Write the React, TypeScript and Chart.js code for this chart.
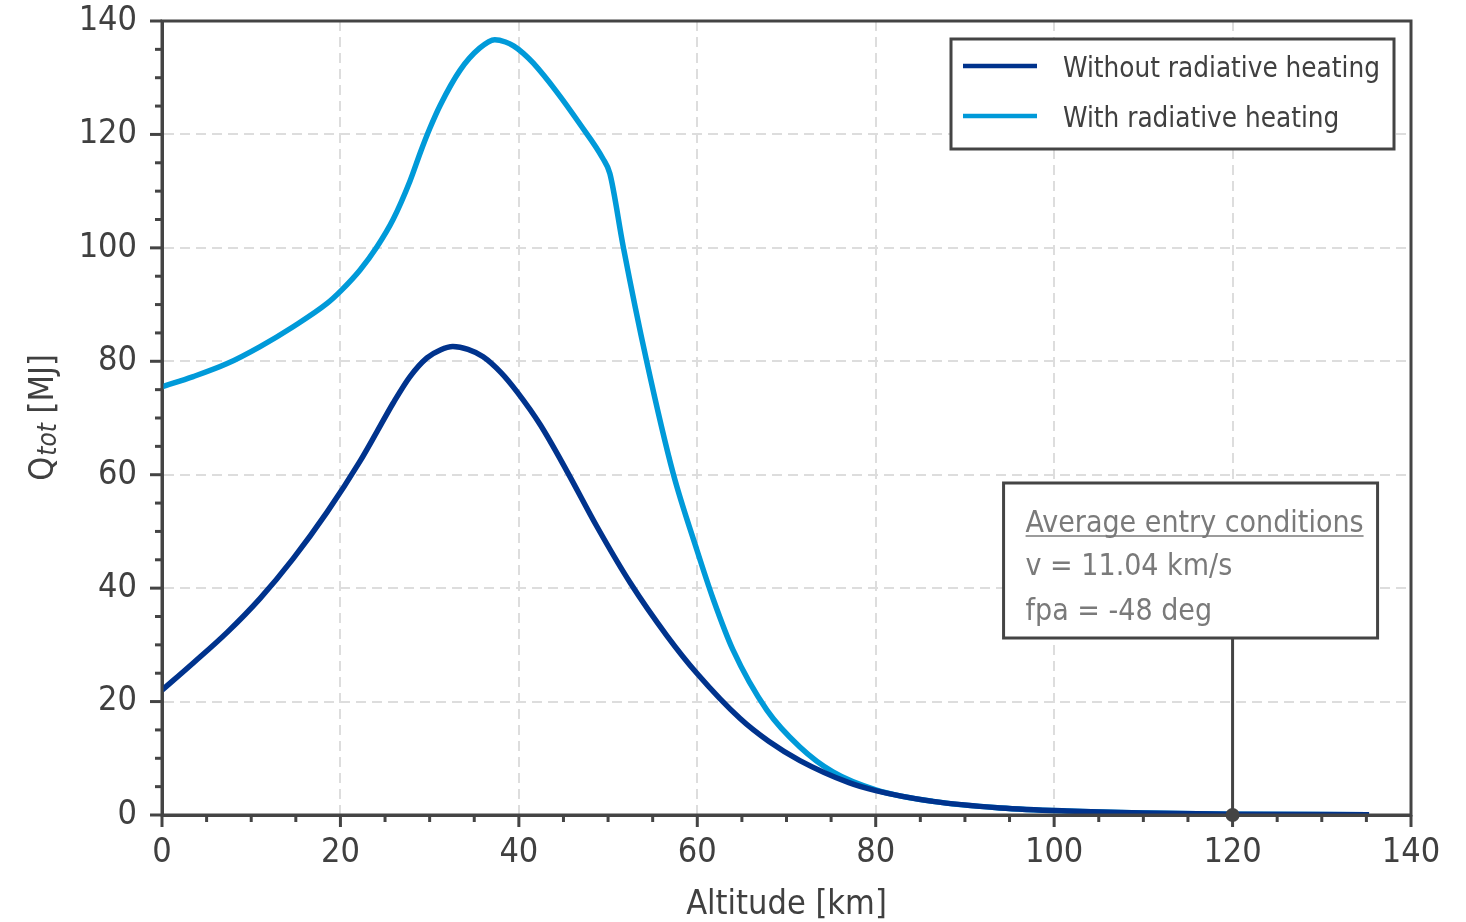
import React, { useEffect, useRef } from 'react';
import { Chart, registerables } from 'chart.js';

Chart.register(...registerables);

// ---------- data ----------
const SERIES_LABELS = ['Without radiative heating', 'With radiative heating'];

const ALTITUDE_WITHOUT = [0, 3.5, 7.3, 11, 14.7, 18.5, 22.2, 24.1, 25.9, 27.8, 29.7, 31.2, 32.6, 34.3, 36, 38, 39.8, 42.4, 45.4, 48.7, 52.5, 56.6, 60, 64.8, 68, 71.5, 77, 80, 86.4, 94, 101.4, 110, 120, 135.3];
const Q_WITHOUT = [22, 26.8, 32.2, 38.2, 45.2, 53.4, 62.4, 67.6, 72.6, 77.3, 80.6, 82.0, 82.6, 82.1, 80.8, 78.0, 74.6, 68.8, 60.6, 51.0, 40.9, 31.6, 24.9, 17.0, 13.0, 9.6, 5.7, 4.3, 2.4, 1.25, 0.7, 0.35, 0.15, 0.05];

const ALTITUDE_WITH = [0, 3.5, 7.3, 11, 14.7, 18.5, 20.1, 22.2, 24.1, 25.9, 27.8, 29.0, 30.0, 31.2, 33.4, 35.6, 37.3, 38.5, 39.4, 40.5, 41.6, 44.2, 46.9, 49.4, 50.2, 51.7, 54.3, 57.3, 59.9, 61.8, 64, 67.8, 71.5, 75.2, 80.1, 86.4, 94, 101.4, 110, 120, 135.3];
const Q_WITH = [75.5, 77.3, 79.6, 82.6, 86.1, 90.2, 92.5, 96.1, 100.2, 105.0, 111.8, 117.0, 121.0, 125.2, 131.3, 135.2, 136.7, 136.3, 135.6, 134.3, 132.6, 127.6, 121.7, 115.8, 113.1, 100.2, 80.2, 60.2, 47.0, 38.0, 29.1, 18.5, 12.0, 7.6, 4.4, 2.4, 1.25, 0.7, 0.35, 0.15, 0.05];

const X_TICKS = [0, 20, 40, 60, 80, 100, 120, 140];
const Y_TICKS = [0, 20, 40, 60, 80, 100, 120, 140];
const MINOR_STEP = 5;

const X_TITLE = 'Altitude [km]';
const Y_TITLE_MAIN = 'Q';
const Y_TITLE_SUB = 'tot';
const Y_TITLE_UNIT = ' [MJ]';

const ANNOTATION_LINES = ['Average entry conditions', 'v = 11.04 km/s', 'fpa = -48 deg'];
const ANNOTATION_ALTITUDE = 120;
const ANNOTATION_Q = 0;

// ---------- style ----------
const FAMILY = '"DejaVu Sans Condensed", "DejaVu Sans", sans-serif';
const AXIS = '#444444';
const TEXT = '#404040';
const NOTE_TEXT = '#7a7a7a';
const GRID = '#dddddd';
const COLORS = ['#00338d', '#009ad9'];

const decorPlugin = {
  id: 'decor',
  afterDatasetsDraw(chart: any) {
    const { ctx, chartArea: a, scales } = chart;
    const x = scales.x;
    const y = scales.y;
    ctx.save();
    ctx.lineCap = 'butt';

    // frame
    ctx.strokeStyle = AXIS;
    ctx.lineWidth = 3;
    ctx.strokeRect(a.left, a.top, a.right - a.left, a.bottom - a.top);

    // ticks (major + minor)
    const xmin = X_TICKS[0], xmax = X_TICKS[X_TICKS.length - 1];
    const ymin = Y_TICKS[0], ymax = Y_TICKS[Y_TICKS.length - 1];
    for (let v = xmin; v <= xmax; v += MINOR_STEP) {
      const len = X_TICKS.includes(v) ? 12 : 7;
      const px = x.getPixelForValue(v);
      ctx.beginPath();
      ctx.moveTo(px, a.bottom);
      ctx.lineTo(px, a.bottom + len);
      ctx.stroke();
    }
    for (let v = ymin; v <= ymax; v += MINOR_STEP) {
      const len = Y_TICKS.includes(v) ? 12 : 7;
      const py = y.getPixelForValue(v);
      ctx.beginPath();
      ctx.moveTo(a.left, py);
      ctx.lineTo(a.left - len, py);
      ctx.stroke();
    }

    // legend
    const lw = 443, lh = 110;
    const lx = a.right - 17 - lw;
    const ly = a.top + 18;
    ctx.fillStyle = '#ffffff';
    ctx.fillRect(lx, ly, lw, lh);
    ctx.lineWidth = 3;
    ctx.strokeStyle = AXIS;
    ctx.strokeRect(lx, ly, lw, lh);
    chart.data.datasets.forEach((ds: any, i: number) => {
      const ry = ly + 27 + i * 50;
      ctx.strokeStyle = ds.borderColor;
      ctx.lineWidth = 4.5;
      ctx.beginPath();
      ctx.moveTo(lx + 12, ry);
      ctx.lineTo(lx + 86, ry);
      ctx.stroke();
      ctx.fillStyle = TEXT;
      ctx.font = `27.6px ${FAMILY}`;
      ctx.textAlign = 'left';
      ctx.textBaseline = 'alphabetic';
      ctx.fillText(ds.label, lx + 112, ly + 38 + i * 50);
    });

    // annotation
    const ax = x.getPixelForValue(ANNOTATION_ALTITUDE);
    const ay = y.getPixelForValue(ANNOTATION_Q);
    const bx = ax - 229, bw = 374, bh = 155;
    const by = ay - 177 - bh;
    ctx.strokeStyle = AXIS;
    ctx.lineWidth = 3;
    ctx.beginPath();
    ctx.moveTo(ax, by + bh);
    ctx.lineTo(ax, ay);
    ctx.stroke();
    ctx.fillStyle = AXIS;
    ctx.beginPath();
    ctx.arc(ax, ay, 7, 0, Math.PI * 2);
    ctx.fill();
    ctx.fillStyle = '#ffffff';
    ctx.fillRect(bx, by, bw, bh);
    ctx.strokeRect(bx, by, bw, bh);
    ctx.fillStyle = NOTE_TEXT;
    ctx.font = `30px ${FAMILY}`;
    ctx.textAlign = 'left';
    ctx.textBaseline = 'alphabetic';
    const baselines = [49, 92, 137];
    ANNOTATION_LINES.forEach((t, i) => {
      ctx.fillText(t, bx + 22, by + baselines[i]);
      if (i === 0) {
        const w = ctx.measureText(t).width;
        ctx.strokeStyle = NOTE_TEXT;
        ctx.lineWidth = 1.5;
        ctx.beginPath();
        ctx.moveTo(bx + 22, by + baselines[i] + 4);
        ctx.lineTo(bx + 22 + w, by + baselines[i] + 4);
        ctx.stroke();
      }
    });

    // x title
    ctx.fillStyle = TEXT;
    ctx.font = `34px ${FAMILY}`;
    ctx.textAlign = 'center';
    ctx.textBaseline = 'alphabetic';
    ctx.fillText(X_TITLE, (a.left + a.right) / 2, a.bottom + 99);

    // y title (rotated, with subscript)
    const mainFont = `34px ${FAMILY}`;
    const subFont = `italic 26px ${FAMILY}`;
    ctx.font = mainFont;
    const w1 = ctx.measureText(Y_TITLE_MAIN).width;
    const w3 = ctx.measureText(Y_TITLE_UNIT).width;
    ctx.font = subFont;
    const w2 = ctx.measureText(Y_TITLE_SUB).width;
    const total = w1 + w2 + w3;
    const cy = (a.top + a.bottom) / 2;
    ctx.translate(53, cy + total / 2);
    ctx.rotate(-Math.PI / 2);
    ctx.textAlign = 'left';
    ctx.font = mainFont;
    ctx.fillText(Y_TITLE_MAIN, 0, 0);
    ctx.font = subFont;
    ctx.fillText(Y_TITLE_SUB, w1 + 1, 3);
    ctx.font = mainFont;
    ctx.fillText(Y_TITLE_UNIT, w1 + w2 + 1, 0);

    ctx.restore();
  },
};

const zeroPadding = (s: any) => {
  s.paddingTop = 0;
  s.paddingBottom = 0;
  s.paddingLeft = 0;
  s.paddingRight = 0;
};

export default function App() {
  const canvasRef = useRef<HTMLCanvasElement | null>(null);

  useEffect(() => {
    const canvas = canvasRef.current;
    if (!canvas) return;
    const tickFont = { family: FAMILY, size: 34 };
    const chart = new Chart(canvas, {
      type: 'line',
      data: {
        datasets: [
          {
            label: SERIES_LABELS[0],
            data: ALTITUDE_WITHOUT.map((a, i) => ({ x: a, y: Q_WITHOUT[i] })),
            borderColor: COLORS[0],
            backgroundColor: COLORS[0],
            borderWidth: 5.5,
            pointRadius: 0,
            cubicInterpolationMode: 'monotone',
            fill: false,
          },
          {
            label: SERIES_LABELS[1],
            data: ALTITUDE_WITH.map((a, i) => ({ x: a, y: Q_WITH[i] })),
            borderColor: COLORS[1],
            backgroundColor: COLORS[1],
            borderWidth: 5.5,
            pointRadius: 0,
            cubicInterpolationMode: 'monotone',
            fill: false,
          },
        ],
      },
      options: {
        responsive: false,
        animation: false,
        devicePixelRatio: 1,
        layout: { padding: { top: 21, right: 55, left: 0, bottom: 0 } },
        plugins: {
          legend: { display: false },
          tooltip: { enabled: false },
          title: { display: false },
        },
        scales: {
          x: {
            type: 'linear',
            min: X_TICKS[0],
            max: X_TICKS[X_TICKS.length - 1],
            afterBuildTicks: (s: any) => { s.ticks = X_TICKS.map((v) => ({ value: v })); },
            ticks: { font: tickFont, color: TEXT, padding: 18, maxRotation: 0, autoSkip: false },
            grid: { color: GRID, lineWidth: 2, drawTicks: false },
            border: { display: true, color: AXIS, width: 3, dash: [10, 6] },
            afterFit: (s: any) => { s.height = 107; zeroPadding(s); },
          },
          y: {
            type: 'linear',
            min: Y_TICKS[0],
            max: Y_TICKS[Y_TICKS.length - 1],
            afterBuildTicks: (s: any) => { s.ticks = Y_TICKS.map((v) => ({ value: v })); },
            ticks: { font: tickFont, color: TEXT, padding: 25, autoSkip: false },
            grid: { color: GRID, lineWidth: 2, drawTicks: false },
            border: { display: true, color: AXIS, width: 3, dash: [10, 6] },
            afterFit: (s: any) => { s.width = 162; zeroPadding(s); },
          },
        },
      },
      plugins: [decorPlugin],
    } as any);
    return () => chart.destroy();
  }, []);

  return (
    <canvas
      ref={canvasRef}
      width={1466}
      height={922}
      style={{ position: 'absolute', left: 0, top: 0, width: 1466, height: 922, display: 'block', background: '#ffffff' }}
    />
  );
}
